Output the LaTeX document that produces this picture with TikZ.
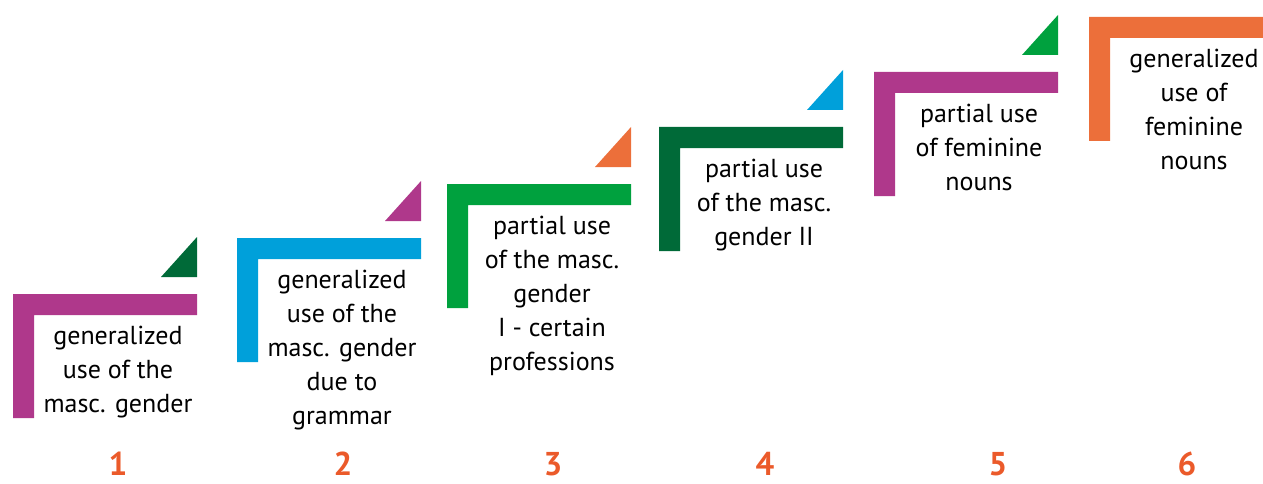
\documentclass[tikz,border=0pt]{standalone}
\usepackage{fontspec}
\setmainfont{PT Sans}
\usepackage{tikz}
\usetikzlibrary{positioning}
\usepackage{xcolor}
\definecolor{stepPurple}{HTML}{AF388B}
\definecolor{stepBlue}{HTML}{00A0DA}
\definecolor{stepGreen}{HTML}{00A13E}
\definecolor{stepDarkGreen}{HTML}{006A38}
\definecolor{stepOrange}{HTML}{EC6F3A}
\definecolor{numOrange}{HTML}{EB5A2A}
\tikzset{
  steptext/.style = {align=center, anchor=north, inner sep=0pt,
    font=\fontsize{26}{34}\selectfont},% text under each bar
  stepnum/.style = {anchor=base, inner sep=0pt, text=numOrange,
    font=\fontsize{33}{33}\selectfont\bfseries},% step number
}

\begin{document}
\begin{tikzpicture}[x=1pt,y=-1pt]
\useasboundingbox (0,0) rectangle (1263,484);
% one stair: corner bar, small triangle above it, label below
\foreach \i/\x/\y/\barcol/\tricol/\txt in {
  1/13/294/stepPurple/stepDarkGreen/{generalized\\use of the\\masc. gender},
  2/237/238/stepBlue/stepPurple/{generalized\\use of the\\masc. gender\\due to\\grammar},
  3/447/184/stepGreen/stepOrange/{partial use\\of the masc.\\gender\\I - certain\\professions},
  4/659/127/stepDarkGreen/stepBlue/{partial use\\of the masc.\\gender II},
  5/874/72/stepPurple/stepGreen/{partial use\\of feminine\\nouns},
  6/1089/17/stepOrange/none/{generalized\\use of\\feminine\\nouns}}
{
  \fill[fill=\tricol] (\x+148,\y-17) -- ++(36,0) -- ++(0,-40) -- cycle;
  \fill[fill=\barcol] (\x,\y) -- ++(184,0) -- ++(0,21) -- ++(-163,0)
    -- ++(0,103) -- ++(-21,0) -- cycle;
  \node[steptext] (txt\i) at (\x+105,\y+32) {\txt};
}
\node[stepnum] (num1) at (118,475) {1};
\node[stepnum] (num2) at (343,475) {2};
\node[stepnum] (num3) at (553,475) {3};
\node[stepnum] (num4) at (765,475) {4};
\node[stepnum] (num5) at (998,475) {5};
\node[stepnum] (num6) at (1187,475) {6};
\end{tikzpicture}
\end{document}
